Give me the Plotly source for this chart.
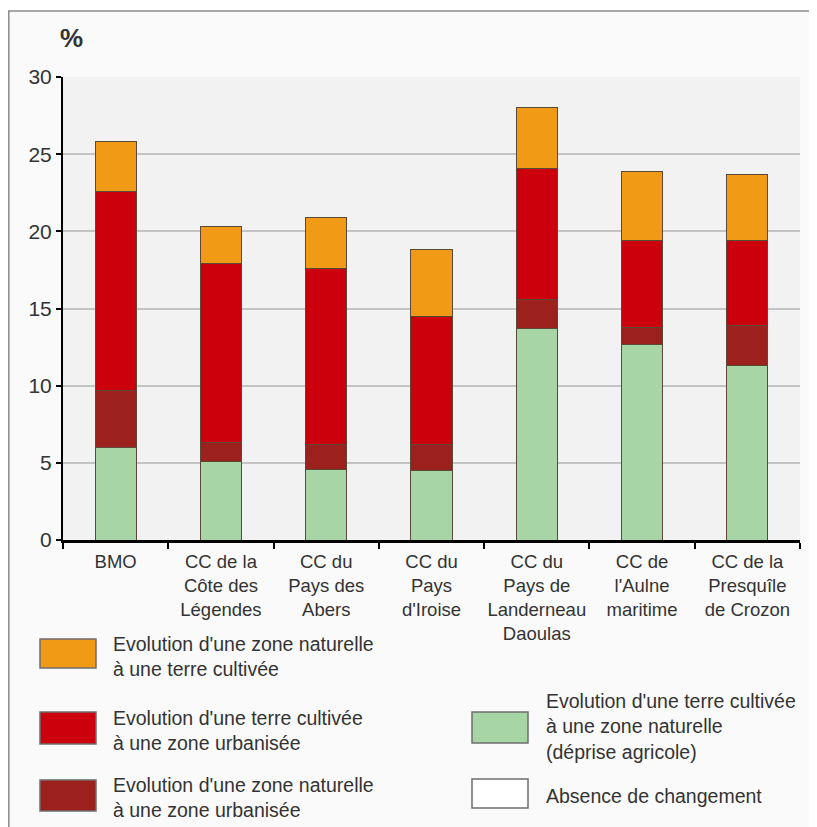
import plotly.graph_objects as go

# ---------------- data ----------------
categories = [
    "BMO",
    "CC de la<br>Côte des<br>Légendes",
    "CC du<br>Pays des<br>Abers",
    "CC du<br>Pays<br>d'Iroise",
    "CC du<br>Pays de<br>Landerneau<br>Daoulas",
    "CC de<br>l'Aulne<br>maritime",
    "CC de la<br>Presquîle<br>de Crozon",
]
deprise_agricole = [6.0, 5.1, 4.6, 4.5, 13.7, 12.7, 11.3]      # terre cultivée -> zone naturelle
naturelle_urbanisee = [3.7, 1.2, 1.6, 1.7, 1.9, 1.1, 2.6]     # zone naturelle -> zone urbanisée
cultivee_urbanisee = [12.9, 11.6, 11.4, 8.3, 8.5, 5.6, 5.5]   # terre cultivée -> zone urbanisée
naturelle_cultivee = [3.2, 2.4, 3.3, 4.3, 3.9, 4.5, 4.3]      # zone naturelle -> terre cultivée
absence_changement = [None] * 7

label_nat_cult = "Evolution d'une zone naturelle<br>à une terre cultivée"
label_cult_urb = "Evolution d'une terre cultivée<br>à une zone urbanisée"
label_nat_urb = "Evolution d'une zone naturelle<br>à une zone urbanisée"
label_deprise = "Evolution d'une terre cultivée<br>à une zone naturelle<br>(déprise agricole)"
label_absence = "Absence de changement"

y_ticks = [0, 5, 10, 15, 20, 25, 30]

# ---------------- styles ----------------
C_GREEN = "#a8d5a5"
C_DARKRED = "#9c201b"
C_RED = "#cc000c"
C_ORANGE = "#f09a16"
C_WHITE = "#ffffff"
EDGE = "#5a4838"
FONT = "Liberation Sans, Arial, sans-serif"
TXT = "#333333"

# the page body has an 8px margin, so the figure starts at page (8, 8)
OFF = 8
W, H = 817 - OFF, 827 - OFF
L, R, T, B = 63 - OFF, 17, 77 - OFF, 287
PW, PH = W - L - R, H - T - B


def px(x):
    """page x pixel -> paper coordinate"""
    return (x - OFF - L) / PW


def py(y):
    """page y pixel -> paper coordinate"""
    return (H - B - (y - OFF)) / PH


series = [
    (deprise_agricole, C_GREEN, label_deprise),
    (naturelle_urbanisee, C_DARKRED, label_nat_urb),
    (cultivee_urbanisee, C_RED, label_cult_urb),
    (naturelle_cultivee, C_ORANGE, label_nat_cult),
    (absence_changement, C_WHITE, label_absence),
]

fig = go.Figure()
for vals, col, name in series:
    fig.add_trace(go.Bar(
        x=categories, y=vals, name=name.replace("<br>", " "),
        marker=dict(color=col, line=dict(color=EDGE, width=1)),
        showlegend=False, hoverinfo="x+y+name",
    ))

# ---------------- frame ----------------
shapes = [
    dict(type="rect", xref="paper", yref="paper", x0=px(0), x1=px(830), y0=py(11), y1=py(0),
         fillcolor="white", line=dict(width=0), layer="below"),
    dict(type="line", xref="paper", yref="paper", x0=px(8.8), x1=px(8.8), y0=py(840), y1=py(11),
         line=dict(color="#8a8a8a", width=1.5)),
    dict(type="line", xref="paper", yref="paper", x0=px(8), x1=px(830), y0=py(11), y1=py(11),
         line=dict(color="#8a8a8a", width=1.5)),
]

# ---------------- custom legend (large swatches) ----------------
legend_items = [
    # (color, label, swatch x0, swatch y0, swatch y1, text x, text center y)  -- page pixels
    (C_ORANGE, label_nat_cult, 40, 639, 668, 111, 656),
    (C_RED, label_cult_urb, 40, 712, 744, 111, 730),
    (C_DARKRED, label_nat_urb, 40, 780, 811, 111, 797),
    (C_GREEN, label_deprise, 472, 712, 743, 544, 726),
    (C_WHITE, label_absence, 472, 779, 808, 544, 796),
]
annotations = []
for col, lab, sx, sy0, sy1, tx, ty in legend_items:
    shapes.append(dict(type="rect", xref="paper", yref="paper",
                       x0=px(sx), x1=px(sx + 56), y0=py(sy1), y1=py(sy0),
                       fillcolor=col, line=dict(color="#6e6e6e", width=1.5)))
    annotations.append(dict(xref="paper", yref="paper", x=px(tx), y=py(ty),
                            xanchor="left", yanchor="middle", align="left",
                            text=lab, showarrow=False,
                            font=dict(family=FONT, size=19.5, color=TXT)))

annotations.append(dict(xref="paper", yref="paper", x=px(71), y=py(38),
                        xanchor="center", yanchor="middle", text="<b>%</b>",
                        showarrow=False, font=dict(family=FONT, size=26, color=TXT)))

fig.update_layout(
    width=W, height=H,
    margin=dict(l=L, r=R, t=T, b=B, pad=0, autoexpand=False),
    barmode="stack", bargap=0.61,
    paper_bgcolor="#fafafa", plot_bgcolor="#f2f2f2",
    font=dict(family=FONT, color=TXT),
    shapes=shapes, annotations=annotations,
    showlegend=False,
)
fig.update_xaxes(
    type="category", showline=True, linecolor="black", linewidth=2.5,
    ticks="outside", tickson="boundaries", ticklen=6, tickwidth=2, tickcolor="black",
    tickangle=0, automargin=False, ticklabelstandoff=3,
    tickfont=dict(family=FONT, size=18.5, color=TXT), showgrid=False,
)
fig.update_yaxes(
    range=[0, 30], tickvals=y_ticks, showline=True, linecolor="black", linewidth=2,
    ticks="outside", ticklen=5, tickwidth=2, tickcolor="black", automargin=False,
    tickfont=dict(family=FONT, size=21, color=TXT),
    showgrid=True, gridcolor="#c4c4c4", gridwidth=1.5, zeroline=False,
)

fig.write_html("out.html")
